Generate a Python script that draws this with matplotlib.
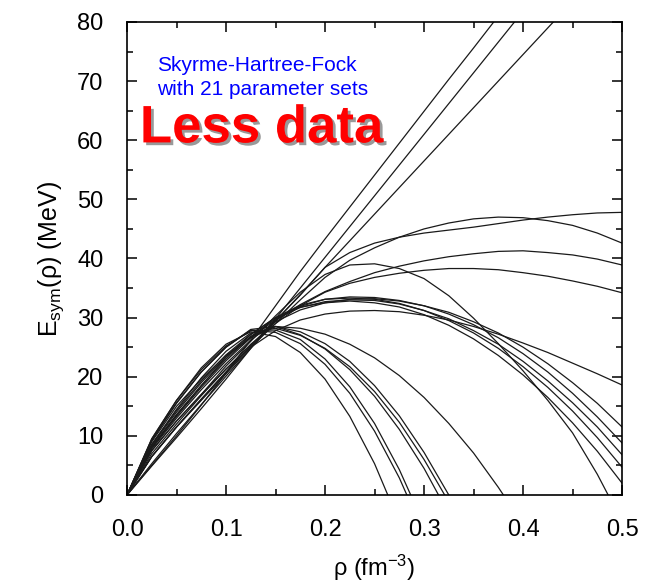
import matplotlib.pyplot as plt
import matplotlib.patheffects as pe
from matplotlib.ticker import MultipleLocator

plt.rcParams['font.family'] = ['Liberation Sans', 'DejaVu Sans']
plt.rcParams['mathtext.fontset'] = 'custom'
plt.rcParams['mathtext.rm'] = 'Liberation Sans'
plt.rcParams['mathtext.it'] = 'Liberation Sans:italic'

# density grid (fm^-3)
rho = [0.0, 0.025, 0.05, 0.075, 0.1, 0.125, 0.15, 0.175, 0.2, 0.225, 0.25,
       0.275, 0.3, 0.325, 0.35, 0.375, 0.4, 0.425, 0.45, 0.475, 0.5]

# symmetry energy (MeV) for the 21 Skyrme sets
# stiff, almost linear ones
stiff1 = [0, 5.0, 10.0, 15.2, 20.6, 26.2, 32.0, 37.8, 43.3, 48.7, 54.1,
          59.5, 64.9, 70.3, 75.6, 81.0, 86.4, 91.8, 97.2, 102.6, 108.0]
stiff2 = [0, 4.9, 9.7, 14.6, 19.6, 24.8, 29.8, 35.0, 40.2, 45.4, 50.6,
          55.8, 61.0, 66.2, 71.4, 76.6, 81.8, 87.0, 92.2, 97.4, 102.6]
stiff3 = [0, 5.3, 10.4, 15.3, 20.1, 24.8, 29.4, 33.9, 38.5, 43.0, 47.5,
          52.0, 56.5, 61.0, 65.5, 70.0, 74.5, 79.0, 83.5, 88.0, 92.5]
# saturating ones, still high at 0.5 fm^-3
flat1 = [0, 6.5, 11.5, 16.2, 20.8, 25.2, 29.5, 33.8, 38.5, 41.0, 42.6,
         43.6, 44.3, 44.8, 45.3, 45.9, 46.5, 47.0, 47.4, 47.7, 47.8]
flat2 = [0, 6.5, 11.5, 16.0, 20.5, 25.0, 29.0, 33.0, 36.8, 39.7, 41.8,
         43.6, 45.0, 46.0, 46.7, 47.0, 46.9, 46.4, 45.6, 44.3, 42.6]
flat3 = [0, 6.5, 11.5, 16.2, 20.8, 25.3, 29.5, 32.2, 34.4, 36.1, 37.6,
         38.7, 39.6, 40.3, 40.8, 41.2, 41.3, 41.0, 40.6, 39.9, 38.9]
flat4 = [0, 7.0, 12.0, 16.8, 21.3, 25.5, 29.0, 32.0, 34.3, 35.8, 36.8,
         37.5, 38.0, 38.3, 38.3, 38.1, 37.6, 37.0, 36.2, 35.3, 34.2]
# arc peaking near 39 MeV
arc1 = [0, 7.5, 12.5, 17.0, 21.8, 26.0, 30.3, 34.3, 37.3, 38.9, 39.1,
        38.3, 36.6, 33.7, 29.9, 25.6, 21.0, 16.0, 10.5, 3.5, -4.5]
# bundle peaking near 33 MeV, ending on the right edge
soft1 = [0, 7.5, 12.5, 17.0, 21.3, 25.0, 27.8, 29.6, 30.6, 31.1, 31.2,
         31.0, 30.4, 29.6, 28.5, 27.2, 25.7, 24.1, 22.3, 20.5, 18.6]
soft2 = [0, 7.8, 13.0, 17.8, 22.2, 26.2, 29.3, 31.3, 32.5, 33.1, 33.2,
         32.8, 32.0, 30.9, 29.3, 27.4, 25.0, 22.2, 19.0, 15.5, 11.5]
soft3 = [0, 8.0, 13.3, 18.2, 22.7, 26.6, 29.6, 31.9, 33.1, 33.5, 33.4,
         32.9, 32.0, 30.6, 28.8, 26.6, 23.9, 20.8, 17.2, 13.2, 8.8]
soft4 = [0, 8.2, 13.6, 18.5, 23.0, 26.8, 29.8, 31.7, 32.7, 33.0, 32.9,
         32.3, 31.2, 29.8, 27.8, 25.5, 22.6, 19.3, 15.6, 11.5, 6.8]
soft5 = [0, 8.4, 14.0, 19.0, 23.4, 27.1, 30.0, 32.1, 33.1, 33.3, 33.1,
         32.4, 31.2, 29.5, 27.4, 24.8, 21.7, 18.2, 14.2, 9.7, 4.7]
soft6 = [0, 8.6, 14.3, 19.3, 23.7, 27.2, 30.0, 31.8, 32.5, 32.8, 32.5,
         31.8, 30.5, 28.7, 26.4, 23.6, 20.3, 16.5, 12.2, 7.4, 2.0]
# early peaking ones that drop through zero
drop1 = [0, 9.0, 15.0, 19.6, 23.6, 26.6, 28.5, 28.2, 27.2, 25.5, 23.2,
         20.2, 16.5, 12.1, 7.1, 1.3, -5.0, -12.0, -19.0, -26.0, -33.0]
drop2 = [0, 8.0, 13.5, 18.5, 23.3, 26.8, 28.5, 27.6, 25.6, 22.6, 18.5,
         13.4, 7.2, 0.0, -8.3, -17.0, -26.0, -35.0, -44.0, -53.0, -62.0]
drop3 = [0, 8.5, 14.5, 19.8, 24.3, 27.4, 28.2, 27.0, 24.8, 21.7, 17.5,
         12.3, 6.0, -1.2, -9.5, -18.0, -27.0, -36.0, -45.0, -54.0, -63.0]
drop4 = [0, 9.3, 15.6, 20.8, 25.0, 28.0, 28.5, 27.1, 24.7, 21.2, 16.7,
         11.1, 4.5, -3.2, -12.0, -21.0, -30.0, -39.0, -48.0, -57.0, -66.0]
drop5 = [0, 9.5, 16.0, 21.2, 25.2, 27.8, 27.9, 26.3, 23.0, 18.3, 12.1,
         4.3, -5.0, -14.0, -24.0, -34.0, -44.0, -54.0, -64.0, -74.0, -84.0]
drop6 = [0, 9.2, 15.5, 20.8, 25.0, 27.9, 27.5, 25.6, 22.1, 17.2, 10.8,
         2.9, -6.6, -16.0, -26.0, -36.0, -46.0, -56.0, -66.0, -76.0, -86.0]
drop7 = [0, 9.5, 16.0, 21.5, 25.5, 27.6, 26.8, 24.1, 19.6, 13.3, 5.3,
         -4.6, -15.0, -26.0, -37.0, -48.0, -59.0, -70.0, -81.0, -92.0, -103.0]

curves = [stiff1, stiff2, stiff3, flat1, flat2, flat3, flat4, arc1,
          soft1, soft2, soft3, soft4, soft5, soft6,
          drop1, drop2, drop3, drop4, drop5, drop6, drop7]

fig = plt.figure(figsize=(6.48, 5.86), dpi=100)
ax = fig.add_axes([0.196, 0.1553, 0.764, 0.8072])

for e in curves:
    ax.plot(rho, e, color='#1a1a1a', lw=0.9)

ax.set_xlim(0, 0.5)
ax.set_ylim(0, 80)
ax.xaxis.set_major_locator(MultipleLocator(0.1))
ax.xaxis.set_minor_locator(MultipleLocator(0.05))
ax.yaxis.set_major_locator(MultipleLocator(10))
ax.yaxis.set_minor_locator(MultipleLocator(5))
ax.xaxis.set_major_formatter(plt.FormatStrFormatter('%.1f'))
ax.tick_params(which='both', direction='in', top=True, right=True,
               width=1.1, labelsize=17, pad=17)
ax.tick_params(which='major', length=7)
ax.tick_params(which='minor', length=4)
for s in ax.spines.values():
    s.set_linewidth(1.2)

ax.set_xlabel(r'ρ (fm$^{-3}$)', fontsize=17, labelpad=9)
ax.set_ylabel(r'E$_{\rm sym}$(ρ) (MeV)', fontsize=18, labelpad=8)

ax.text(0.03, 72.7, 'Skyrme-Hartree-Fock', color='blue', fontsize=15,
        va='center')
ax.text(0.03, 68.5, 'with 21 parameter sets', color='blue', fontsize=15,
        va='center')
ax.text(0.013, 62.0, 'Less data', color='red', fontsize=38,
        fontweight='bold', va='center',
        path_effects=[pe.withSimplePatchShadow(offset=(2, -2),
                                               shadow_rgbFace='#555555',
                                               alpha=0.6)])

fig.savefig('out.png', dpi=100)
